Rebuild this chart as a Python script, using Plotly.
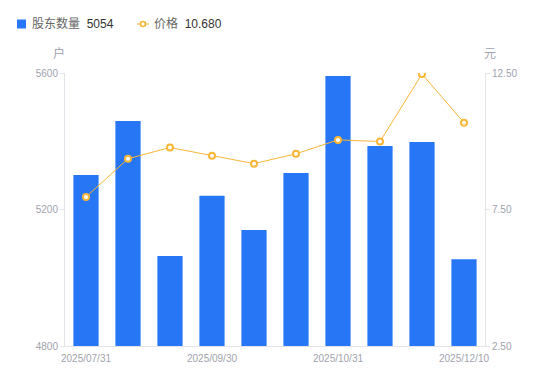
import plotly.graph_objects as go

dates = ["2025/07/31", "2025/08/20", "2025/09/10", "2025/09/30", "2025/10/10",
         "2025/10/20", "2025/10/31", "2025/11/20", "2025/11/30", "2025/12/10"]
holders = [5301, 5459, 5064, 5240, 5140, 5307, 5591, 5386, 5398, 5054]
prices = [7.96, 9.36, 9.77, 9.47, 9.18, 9.54, 10.05, 9.99, 12.46, 10.68]
tick_idx = [0, 3, 6, 9]
legend_names = ["股东数量", "价格"]
legend_values = ["5054", "10.680"]

FONT = "Liberation Sans, Noto Sans CJK SC, sans-serif"
BLUE = "#2676F5"
ORANGE = "#F9B637"
GRAY = "#A0A3AE"
AXIS = "#E2E4EA"

fig = go.Figure()
fig.add_trace(go.Bar(
    x=dates, y=holders, name=legend_names[0],
    marker=dict(color=BLUE, line=dict(width=0)), yaxis="y"))
fig.add_trace(go.Scatter(
    x=dates, y=prices, name=legend_names[1],
    mode="lines+markers", line=dict(color=ORANGE, width=1),
    marker=dict(symbol="circle", size=6, color="white", line=dict(color=ORANGE, width=2)),
    yaxis="y2"))

fig.update_layout(
    width=550, height=381,
    margin=dict(l=65, r=65, t=73, b=35, autoexpand=False),
    paper_bgcolor="white", plot_bgcolor="white",
    font=dict(family=FONT, size=10, color=GRAY),
    bargap=0.4,
    showlegend=False,
    xaxis=dict(type="category", range=[-0.5, len(dates) - 0.5], autorange=False,
               tickmode="array", tickvals=[dates[i] for i in tick_idx],
               ticktext=[dates[i] for i in tick_idx], showline=True, linecolor=AXIS,
               ticks="", showgrid=False, tickfont=dict(size=10, color=GRAY), tickangle=0,
               ticklabelstandoff=3),
    yaxis=dict(range=[4800, 5600], tickvals=[4800, 5200, 5600], showline=True, linecolor=AXIS,
               ticks="outside", ticklen=4, tickcolor=AXIS, showgrid=False, zeroline=False,
               tickfont=dict(size=10, color=GRAY)),
    yaxis2=dict(range=[2.5, 12.5], tickvals=[2.5, 7.5, 12.5], tickformat=".2f", overlaying="y",
                side="right", showline=True, linecolor=AXIS, ticks="outside", ticklen=4,
                tickcolor=AXIS, showgrid=False, zeroline=False,
                tickfont=dict(size=10, color=GRAY)),
)

# axis unit titles
fig.add_annotation(text="户", xref="paper", yref="paper", x=-0.015, y=1.035,
                   xanchor="center", yanchor="bottom", showarrow=False,
                   font=dict(size=12, color=GRAY, family=FONT))
fig.add_annotation(text="元", xref="paper", yref="paper", x=1.012, y=1.035,
                   xanchor="center", yanchor="bottom", showarrow=False,
                   font=dict(size=12, color=GRAY, family=FONT))

# custom legend (container pixel coordinates converted to paper)
W, H = 550, 381
L, R, T, B = 65, 65, 73, 35
pw, ph = W - L - R, H - T - B
def px(x):
    return (x - L) / pw
def py(y):
    return (H - B - y) / ph

fig.add_shape(type="rect", xref="paper", yref="paper",
              x0=px(17), x1=px(26), y0=py(28.5), y1=py(19.5),
              fillcolor=BLUE, line=dict(width=0))
fig.add_shape(type="line", xref="paper", yref="paper",
              x0=px(137), x1=px(149), y0=py(24), y1=py(24),
              line=dict(color=ORANGE, width=1))
fig.add_shape(type="circle", xref="paper", yref="paper",
              x0=px(140.5), x1=px(145.5), y0=py(26.5), y1=py(21.5),
              fillcolor="white", line=dict(color=ORANGE, width=1.6))
for xpos, name, val in [(30, legend_names[0], legend_values[0]),
                        (152, legend_names[1], legend_values[1])]:
    fig.add_annotation(
        text=f"<span style='color:#666'>{name}</span>  <span style='color:#333'>{val}</span>",
        xref="paper", yref="paper", x=px(xpos), y=py(24), xanchor="left", yanchor="middle",
        showarrow=False, font=dict(size=12, family=FONT))

fig.write_html("out.html", post_script="document.body.style.margin='0';",
               config={"displayModeBar": False})
